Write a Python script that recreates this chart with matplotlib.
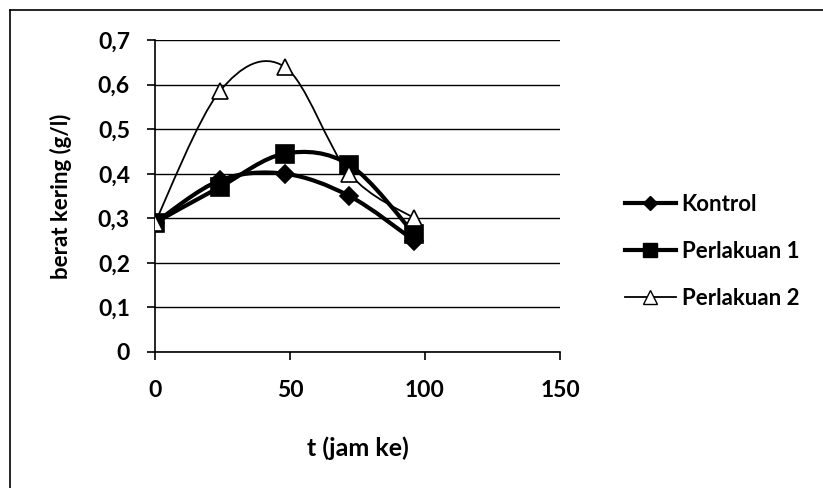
import matplotlib
matplotlib.use('Agg')
import matplotlib.pyplot as plt
from matplotlib.path import Path
from matplotlib.patches import PathPatch
from matplotlib.lines import Line2D

# data
t_jam = [0, 24, 48, 72, 96]
kontrol = [0.29, 0.385, 0.40, 0.35, 0.25]
perlakuan_1 = [0.29, 0.37, 0.445, 0.42, 0.265]
perlakuan_2 = [0.29, 0.585, 0.64, 0.40, 0.30]
series_names = ['Kontrol', 'Perlakuan 1', 'Perlakuan 2']
y_ticks = [0, 0.1, 0.2, 0.3, 0.4, 0.5, 0.6, 0.7]
y_tick_labels = ['0', '0,1', '0,2', '0,3', '0,4', '0,5', '0,6', '0,7']
x_ticks = [0, 50, 100, 150]

plt.rcParams['font.family'] = ['Lato', 'DejaVu Sans']
plt.rcParams['font.weight'] = 'bold'


def smooth_path(xs, ys):
    # excel style smoothed line: bezier segments through the points
    pts = list(zip(xs, ys))
    verts = [pts[0]]
    codes = [Path.MOVETO]
    n = len(pts)
    for i in range(n - 1):
        p0 = pts[i - 1] if i > 0 else pts[i]
        p1 = pts[i]
        p2 = pts[i + 1]
        p3 = pts[i + 2] if i + 2 < n else pts[i + 1]
        c1 = (p1[0] + (p2[0] - p0[0]) / 6, p1[1] + (p2[1] - p0[1]) / 6)
        c2 = (p2[0] - (p3[0] - p1[0]) / 6, p2[1] - (p3[1] - p1[1]) / 6)
        verts += [c1, c2, p2]
        codes += [Path.CURVE4] * 3
    return Path(verts, codes)


fig = plt.figure(figsize=(8.23, 4.88), dpi=100)
ax = fig.add_axes([0.1883, 0.2787, 0.4921, 0.6393])

# outer chart border (only top and left edges are inside the crop)
fig.add_artist(Line2D([10 / 823, 1.0], [478 / 488, 478 / 488], color='black',
                      linewidth=1.2, transform=fig.transFigure))
fig.add_artist(Line2D([10 / 823, 10 / 823], [0.0, 478 / 488], color='black',
                      linewidth=1.2, transform=fig.transFigure))

styles = [
    dict(marker='D', ms=9, mfc='black', mec='black', lw=3.0),
    dict(marker='s', ms=13, mfc='black', mec='black', lw=3.0),
    dict(marker='^', ms=12, mfc='white', mec='black', lw=1.3),
]
all_series = [kontrol, perlakuan_1, perlakuan_2]

for ys, st in zip(all_series, styles):
    patch = PathPatch(smooth_path(t_jam, ys), facecolor='none', edgecolor='black',
                      linewidth=st['lw'], zorder=3)
    ax.add_patch(patch)
    ax.plot(t_jam, ys, linestyle='none', marker=st['marker'], markersize=st['ms'],
            markerfacecolor=st['mfc'], markeredgecolor=st['mec'], markeredgewidth=1.2,
            zorder=4)

ax.set_xlim(0, 150)
ax.set_ylim(0, 0.7)
ax.set_yticks(y_ticks)
ax.set_yticklabels(y_tick_labels)
ax.set_xticks(x_ticks)
ax.set_xticklabels([str(v) for v in x_ticks])
ax.grid(axis='y', color='black', linewidth=1.0)
ax.set_axisbelow(True)
for side in ['top', 'right']:
    ax.spines[side].set_visible(False)
ax.spines['left'].set_linewidth(1.2)
ax.spines['bottom'].set_linewidth(1.2)
ax.tick_params(axis='y', length=6, width=1.2, pad=12, labelsize=16.5)
ax.tick_params(axis='x', length=6, width=1.2, pad=14, labelsize=16.5)
ax.set_ylabel('berat kering (g/l)', fontsize=16, fontweight='bold')
ax.yaxis.set_label_coords(-0.205, 0.5)
ax.set_xlabel('t (jam ke)', fontsize=18, fontweight='bold')
ax.xaxis.set_label_coords(0.5, -0.27)

handles = [Line2D([], [], color='black', lw=st['lw'], marker=st['marker'],
                  markersize=st['ms'] * 0.8, markerfacecolor=st['mfc'],
                  markeredgecolor=st['mec']) for st in styles]
fig.legend(handles, series_names, loc='upper left', bbox_to_anchor=(0.735, 0.644),
           frameon=False, fontsize=16, handlelength=2.3, handletextpad=0.25,
           labelspacing=1.18)

fig.savefig('out.png', dpi=100, facecolor='white')
